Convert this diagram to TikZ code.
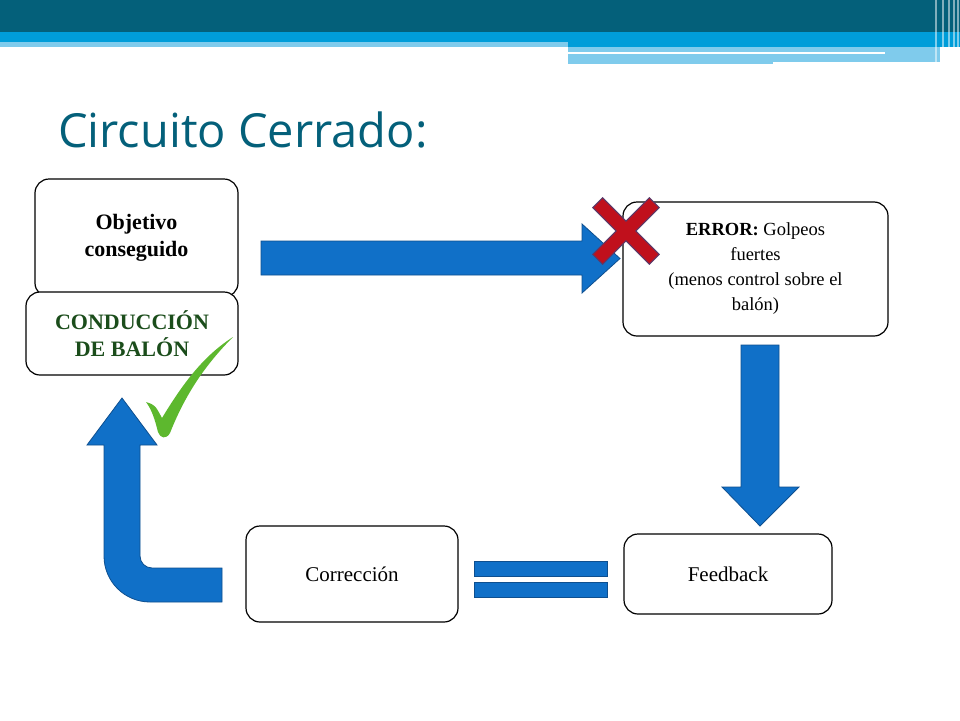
\documentclass[tikz,border=0pt]{standalone}
\usepackage{fontspec}
\setmainfont{Liberation Serif}
\newfontfamily\titlefont{Open Sans}
\definecolor{teal}{HTML}{04607A}
\definecolor{bright}{HTML}{009DD9}
\definecolor{light}{HTML}{7FCBEC}
\definecolor{arrblue}{HTML}{1070C8}
\definecolor{arrdark}{HTML}{0E4F8F}
\definecolor{dgreen}{HTML}{1B4D1B}
\definecolor{checkgreen}{HTML}{5DB82E}
\definecolor{crossred}{HTML}{C0101C}
\definecolor{crossdark}{HTML}{5A3A6A}
\begin{document}
\begin{tikzpicture}[x=1pt,y=-1pt,
  box/.style={draw=black,line width=1.2pt,rounded corners=14pt,fill=white,align=center},
  barrow/.style={fill=arrblue,draw=arrdark,line width=0.8pt}]
\useasboundingbox (0,0) rectangle (960,720);
\fill[white] (0,0) rectangle (960,720);
% banner
\fill[teal] (0,0) rectangle (960,32);
\fill[bright] (0,32) rectangle (960,42);
\fill[light] (0,42) rectangle (568,47);
\fill[bright] (568,42) rectangle (960,47);
\fill[light] (568,47) rectangle (940,52);
\fill[white] (568,52) rectangle (885,54);
\fill[light] (885,52) rectangle (940,62);
\fill[light] (568,54) rectangle (773,64);
\fill[light] (773,54) rectangle (885,62);
\foreach \xx in {935,942,948,953,957} \fill[white,opacity=0.5] (\xx,0) rectangle (\xx+1.5,64);
% title
\node[anchor=base west,inner sep=0,text=teal,font=\titlefont\fontsize{47}{50}\selectfont] (title) at (58,147) {Circuito Cerrado:};
% boxes
\node[box,minimum width=203,minimum height=118,font=\bfseries\fontsize{22}{27}\selectfont] (obj) at (136.5,238) {Objetivo\\conseguido};
\node[box,minimum width=212,minimum height=83,text=dgreen,font=\bfseries\fontsize{22}{27}\selectfont] (cond) at (132,333.5) {CONDUCCIÓN\\DE BALÓN};
\node[box,minimum width=265,minimum height=134,font=\fontsize{18.5}{25}\selectfont] (err) at (755.5,269) {\textbf{ERROR:} Golpeos\\fuertes\\(menos control sobre el\\balón)};
\node[box,minimum width=212,minimum height=96,font=\fontsize{21}{25}\selectfont] (corr) at (352,574) {Corrección};
\node[box,minimum width=208,minimum height=80,font=\fontsize{21}{25}\selectfont] (feed) at (728,574) {Feedback};
% right arrow
\draw[barrow] (261,241) -- (582,241) -- (582,224) -- (620,258.5) -- (582,293) -- (582,275) -- (261,275) -- cycle;
% down arrow
\draw[barrow] (741,345) -- (779,345) -- (779,487) -- (799,487) -- (760,526) -- (722,487) -- (741,487) -- cycle;
% equals
\draw[barrow] (474,561) rectangle (607,576);
\draw[barrow] (474,582) rectangle (607,597);
% U-turn arrow
\draw[barrow] (222,568) -- (222,602) -- (150,602) arc[start angle=90,end angle=180,radius=46] -- (104,445) -- (87,445) -- (122,398) -- (157,445) -- (140,445) -- (140,556) arc[start angle=180,end angle=90,radius=12] -- cycle;
% check
\fill[checkgreen] (146,402) .. controls (155,405) .. (162,418) .. controls (185,380) and (205,355) .. (233,337) .. controls (205,365) and (185,395) .. (170,433) .. controls (166,440) and (160,438) .. (158,432) .. controls (155,420) and (152,410) .. (146,402) -- cycle;
% cross
\begin{scope}[shift={(626,231)},rotate=45]
\draw[fill=crossred,draw=crossdark,line width=1pt] (-40,-7) -- (-7,-7) -- (-7,-40) -- (7,-40) -- (7,-7) -- (40,-7) -- (40,7) -- (7,7) -- (7,40) -- (-7,40) -- (-7,7) -- (-40,7) -- cycle;
\end{scope}
\end{tikzpicture}
\end{document}
